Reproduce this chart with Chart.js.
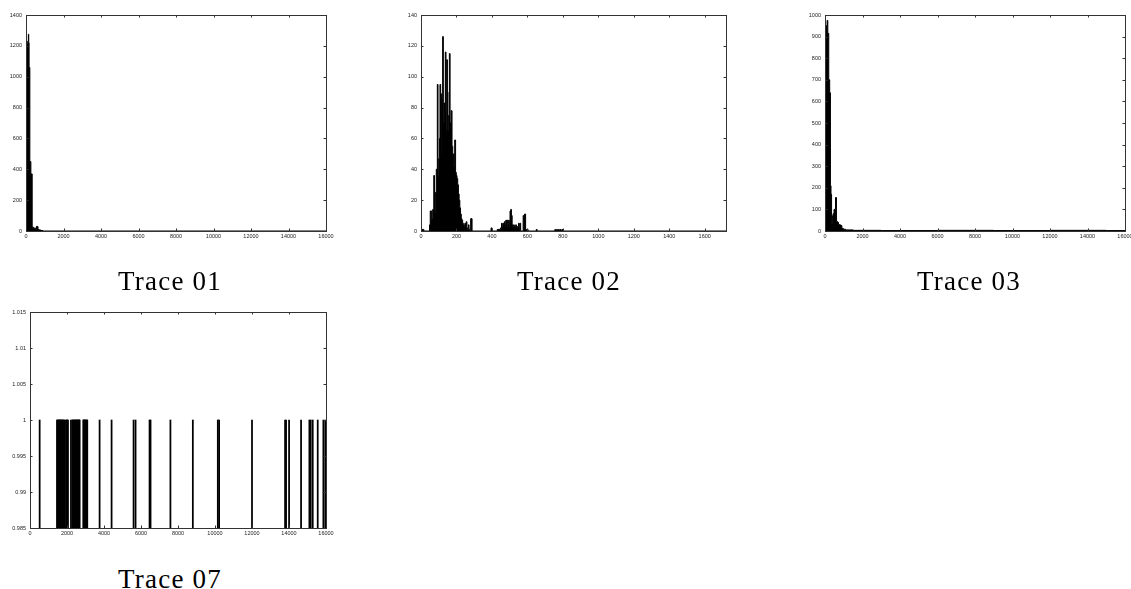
<!DOCTYPE html>
<html>
<head>
<meta charset="utf-8">
<script src="https://cdn.jsdelivr.net/npm/chart.js@4.4.1/dist/chart.umd.min.js"></script>
<style>
  html, body { margin: 0; padding: 0; background: #fff; }
  body { width: 1131px; height: 589px; position: relative; overflow: hidden; }
  canvas { position: absolute; }
  .ttl { position: absolute; width: 240px; text-align: center; font-family: "Liberation Serif", serif;
         font-size: 27px; letter-spacing: 1.2px; line-height: 27px; color: #000; }
</style>
</head>
<body>
<canvas id="c1" width="345" height="250" style="left:0px;top:0px"></canvas>
<canvas id="c2" width="350" height="250" style="left:390px;top:0px"></canvas>
<canvas id="c3" width="341" height="250" style="left:790px;top:0px"></canvas>
<canvas id="c4" width="345" height="250" style="left:0px;top:295px"></canvas>
<div class="ttl" style="left:50px;top:268px">Trace 01</div>
<div class="ttl" style="left:449px;top:268px">Trace 02</div>
<div class="ttl" style="left:849px;top:268px">Trace 03</div>
<div class="ttl" style="left:50px;top:566px">Trace 07</div>
<script>
// ---------------- DATA ----------------
// Trace 01 histogram (bin left edge, count)
const trace01X = [0, 18, 50, 90, 125, 145, 165, 205, 260, 330, 400, 450, 500, 540, 560, 620, 640, 700, 800, 900, 16000];
const trace01Y = [680, 300, 1210, 1230, 1275, 1220, 1060, 450, 370, 25, 15, 20, 10, 15, 30, 28, 10, 6, 3, 0, 0];

// Trace 02 histogram
const trace02X = [0, 16, 48, 52, 60, 66, 72, 76, 80, 86, 92, 96, 100, 104, 107, 111, 115, 118, 122, 126, 130, 133, 137, 141, 145, 149, 152, 156, 160, 164, 170, 175, 179, 183, 187, 190, 195, 199, 203, 207, 211, 215, 219, 223, 227, 231, 235, 239, 243, 247, 251, 255, 259, 263, 267, 271, 275, 280, 288,
  395, 400, 430, 448, 454, 458, 462, 466, 470, 474, 478, 482, 486, 490, 494, 498, 502, 506, 510, 514, 518, 522, 526, 530, 534, 538, 542, 546, 550, 554, 558, 562, 576, 580, 584, 590, 596, 600, 604,
  650, 655, 755, 760, 765, 770, 775, 780, 785, 790, 795, 800, 1720];
const trace02Y = [1, 0, 4, 13, 8, 14, 36, 12, 25, 40, 95, 35, 47, 60, 95, 89, 50, 86, 126, 70, 83, 77, 116, 66, 111, 90, 65, 75, 115, 70, 78, 55, 50, 42, 50, 59, 38, 36, 34, 30, 24, 20, 15, 11, 8, 7, 5, 4, 3, 5, 3, 6, 2, 1, 4, 1, 0, 8, 0,
  2, 0, 1, 2, 5, 3, 5, 4, 6, 4, 7, 3, 7, 5, 7, 3, 13, 14, 10, 4, 3, 4, 3, 2, 4, 3, 2, 3, 5, 1, 5, 0, 10, 9, 11, 1, 0, 1, 0,
  1, 0, 1, 0, 1, 0, 1, 0, 1, 0, 1, 0, 0];

// Trace 03 histogram
const trace03X = [0, 30, 50, 110, 150, 200, 250, 290, 320, 350, 380, 430, 480, 560, 610, 660, 720, 780, 850, 900, 980, 1100, 1500, 3000, 6000, 9000, 12000, 15000, 16000];
const trace03Y = [720, 400, 950, 975, 915, 700, 640, 210, 170, 35, 70, 80, 100, 155, 45, 40, 30, 28, 25, 12, 8, 5, 3, 2, 3, 2, 3, 2, 2];

// Trace 07 impulses (position, value)
const trace07X = [522, 1460, 1490, 1520, 1550, 1580, 1610, 1640, 1670, 1700, 1730, 1760, 1790, 1820, 1872,
  1946, 1980, 2016, 2052, 2214, 2286, 2320, 2350, 2380, 2412, 2448, 2480, 2510, 2540, 2570, 2600, 2630, 2660, 2682,
  2880, 2910, 2940, 2970, 3000, 3030, 3060, 3096, 3762, 4410, 5598, 5706, 6462, 6516, 7590, 8802, 10152, 10224,
  12000, 13788, 13842, 14004, 14652, 15102, 15174, 15282, 15552, 15858, 15960];
const trace07Y = trace07X.map(() => 1);

// Tick values
const xTicks16k = [0, 2000, 4000, 6000, 8000, 10000, 12000, 14000, 16000];
const xTicks02 = [0, 200, 400, 600, 800, 1000, 1200, 1400, 1600];
const yTicks01 = [0, 200, 400, 600, 800, 1000, 1200, 1400];
const yTicks02 = [0, 20, 40, 60, 80, 100, 120, 140];
const yTicks03 = [0, 100, 200, 300, 400, 500, 600, 700, 800, 900, 1000];
const yTicks07 = [0.985, 0.99, 0.995, 1, 1.005, 1.01, 1.015];

// ---------------- DRAWING ----------------
Chart.defaults.font.family = '"Liberation Sans", Arial, sans-serif';
Chart.defaults.font.size = 5.5;
Chart.defaults.color = '#222';
Chart.defaults.animation = false;

const frameTicks = {
  id: 'frameTicks',
  afterDraw(chart) {
    const { ctx, chartArea: a, scales: { x, y } } = chart;
    const L = 2.5;
    ctx.save();
    ctx.strokeStyle = '#333';
    ctx.lineWidth = 1;
    ctx.beginPath();
    x.ticks.forEach(t => {
      const px = Math.round(x.getPixelForValue(t.value)) + 0.5;
      ctx.moveTo(px, a.bottom); ctx.lineTo(px, a.bottom - L);
      ctx.moveTo(px, a.top); ctx.lineTo(px, a.top + L);
    });
    y.ticks.forEach(t => {
      const py = Math.round(y.getPixelForValue(t.value)) + 0.5;
      ctx.moveTo(a.left, py); ctx.lineTo(a.left + L, py);
      ctx.moveTo(a.right, py); ctx.lineTo(a.right - L, py);
    });
    ctx.stroke();
    ctx.strokeRect(Math.round(a.left) + 0.5, Math.round(a.top) + 0.5,
                   Math.round(a.right - a.left), Math.round(a.bottom - a.top));
    ctx.restore();
  }
};

function pts(xs, ys) { return xs.map((v, i) => ({ x: v, y: ys[i] })); }

function makePanel(id, canvasBox, area, cfg) {
  const xH = 12;
  const yW = area.left - canvasBox.x;
  const padding = {
    left: 0,
    top: area.top - canvasBox.y,
    right: canvasBox.x + canvasBox.w - area.right,
    bottom: canvasBox.y + canvasBox.h - area.bottom - xH
  };
  const fmt = v => String(v);
  const dataset = cfg.kind === 'bar'
    ? { type: 'bar', data: pts(cfg.xs, cfg.ys), backgroundColor: '#000', borderWidth: 0,
        barThickness: 1.1, base: cfg.yMin }
    : { type: 'line', data: pts(cfg.xs, cfg.ys), stepped: 'before', fill: 'origin',
        backgroundColor: '#000', borderColor: '#000', borderWidth: 1, pointRadius: 0, tension: 0 };
  new Chart(document.getElementById(id), {
    type: cfg.kind === 'bar' ? 'bar' : 'line',
    data: { datasets: [dataset] },
    options: {
      responsive: false,
      devicePixelRatio: 1,
      layout: { padding },
      plugins: { legend: { display: false }, tooltip: { enabled: false } },
      scales: {
        x: {
          type: 'linear', min: 0, max: cfg.xMax, offset: false,
          grid: { display: false, drawTicks: false },
          border: { display: false },
          ticks: { padding: 2, maxRotation: 0, autoSkip: false, callback: fmt },
          afterBuildTicks: s => { s.ticks = cfg.xTicks.map(v => ({ value: v })); },
          afterFit: s => { s.height = xH; s.paddingLeft = 0; s.paddingRight = 0; }
        },
        y: {
          type: 'linear', min: cfg.yMin, max: cfg.yMax,
          grid: { display: false, drawTicks: false },
          border: { display: false },
          ticks: { padding: 4, autoSkip: false, callback: fmt },
          afterBuildTicks: s => { s.ticks = cfg.yTicks.map(v => ({ value: v })); },
          afterFit: s => { s.width = yW; s.paddingTop = 0; s.paddingBottom = 0; }
        }
      }
    },
    plugins: [frameTicks]
  });
}

makePanel('c1', { x: 0, y: 0, w: 345, h: 250 }, { left: 26, top: 15, right: 326, bottom: 231 },
  { kind: 'line', xs: trace01X, ys: trace01Y, xMax: 16000, yMin: 0, yMax: 1400, xTicks: xTicks16k, yTicks: yTicks01 });
makePanel('c2', { x: 390, y: 0, w: 350, h: 250 }, { left: 421, top: 15, right: 726, bottom: 231 },
  { kind: 'line', xs: trace02X, ys: trace02Y, xMax: 1720, yMin: 0, yMax: 140, xTicks: xTicks02, yTicks: yTicks02 });
makePanel('c3', { x: 790, y: 0, w: 341, h: 250 }, { left: 825, top: 15, right: 1125, bottom: 231 },
  { kind: 'line', xs: trace03X, ys: trace03Y, xMax: 16000, yMin: 0, yMax: 1000, xTicks: xTicks16k, yTicks: yTicks03 });
makePanel('c4', { x: 0, y: 295, w: 345, h: 250 }, { left: 30, top: 312, right: 326, bottom: 528 },
  { kind: 'bar', xs: trace07X, ys: trace07Y, xMax: 16000, yMin: 0.985, yMax: 1.015, xTicks: xTicks16k, yTicks: yTicks07 });
</script>
</body>
</html>
